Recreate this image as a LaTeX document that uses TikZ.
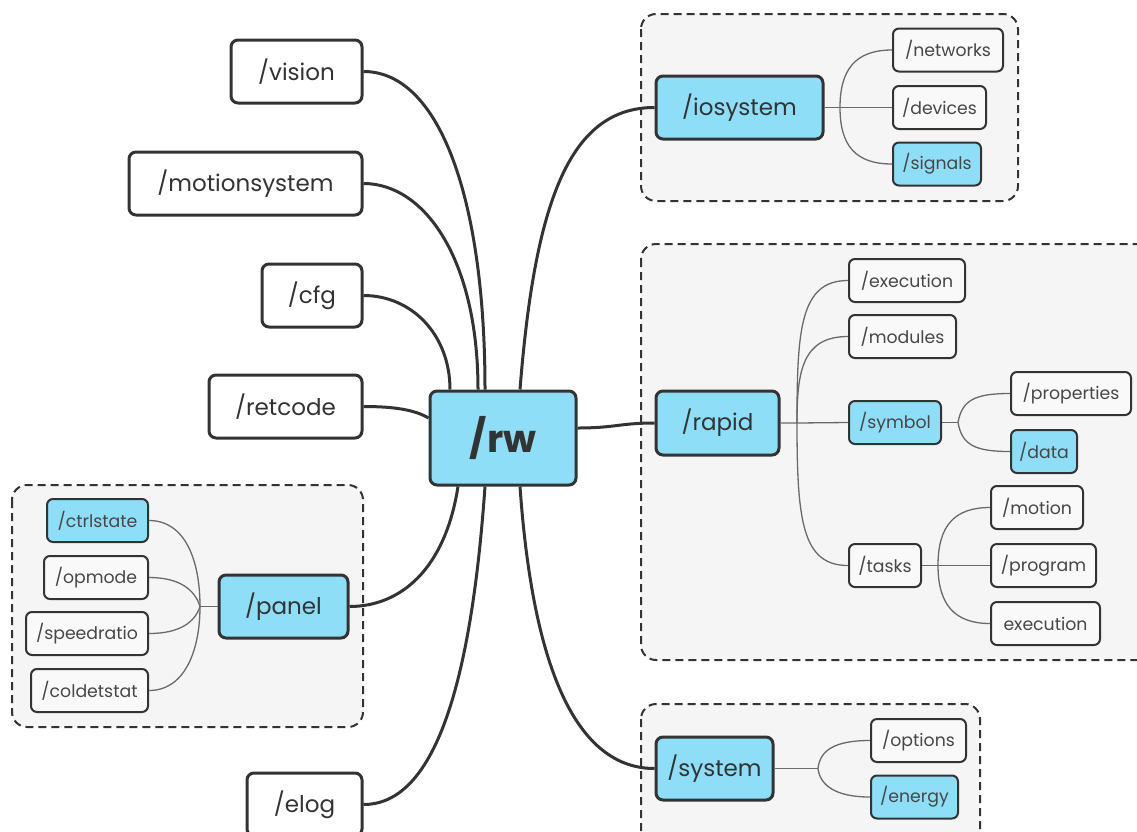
\documentclass[tikz,border=0pt]{standalone}
\usepackage{fontspec}
\setmainfont{Poppins}
\usetikzlibrary{calc}
\definecolor{ink}{HTML}{333333}
\definecolor{thin}{HTML}{6A6A6A}
\definecolor{blueF}{HTML}{8EDEF8}
\definecolor{grpF}{HTML}{F5F5F5}
\definecolor{smallF}{HTML}{F9F9F9}
\tikzset{
  big/.style={draw=ink, line width=3pt, rounded corners=7pt, fill=white, text=ink,
    font=\fontsize{23}{27}\selectfont, minimum height=63pt, inner sep=0pt},
  bigblue/.style={big, fill=blueF},
  small/.style={draw=ink, line width=2pt, rounded corners=6pt, fill=smallF, text=ink!90,
    font=\fontsize{17.3}{20}\selectfont, minimum height=43pt, inner sep=0pt},
  smallblue/.style={small, fill=blueF},
  grp/.style={draw=ink, line width=2pt, dash pattern=on 8pt off 5pt, rounded corners=15pt, fill=grpF},
  main/.style={draw=ink, line width=3pt},
  branch/.style={draw=thin, line width=1.3pt},
}
\begin{document}
\begin{tikzpicture}[x=1pt,y=-1pt]
\useasboundingbox (0,0) rectangle (1137,831);
% groups
\draw[grp] (641,14) rectangle (1018,201);
\draw[grp] (641,244) rectangle (1155,660);
\draw[grp] (12,485) rectangle (363,727);
\draw[grp] (641,704) rectangle (980,845);

% main nodes
\node[bigblue, minimum width=146pt, minimum height=94pt, font=\fontsize{38}{44}\selectfont\bfseries] (rw) at (503,438) {/rw};
\node[big, minimum width=131pt] (vision) at (296.5,71.5) {/vision};
\node[big, minimum width=233pt] (motionsystem) at (245.5,183.5) {/motionsystem};
\node[big, minimum width=100pt] (cfg) at (312,295.5) {/cfg};
\node[big, minimum width=153pt] (retcode) at (285.5,406.5) {/retcode};
\node[bigblue, minimum width=129pt] (panel) at (283.5,606.5) {/panel};
\node[big, minimum width=115pt] (elog) at (304.5,804.5) {/elog};
\node[bigblue, minimum width=167pt] (iosystem) at (739.5,107.5) {/iosystem};
\node[bigblue, minimum width=123pt, minimum height=64pt] (rapid) at (717.5,423) {/rapid};
\node[bigblue, minimum width=117pt] (system) at (714.5,768.5) {/system};

% small nodes
\node[small, minimum width=110pt] (networks) at (948,50) {/networks};
\node[small, minimum width=93pt] (devices) at (939.5,107.5) {/devices};
\node[smallblue, minimum width=88pt] (signals) at (937,164) {/signals};
\node[small, minimum width=116pt] (execution) at (907,280.5) {/execution};
\node[small, minimum width=107pt] (modules) at (902.5,336.5) {/modules};
\node[smallblue, minimum width=92pt] (symbol) at (895,422.5) {/symbol};
\node[small, minimum width=120pt] (properties) at (1071,393.5) {/properties};
\node[smallblue, minimum width=66pt] (data) at (1044,451.5) {/data};
\node[small, minimum width=72pt] (tasks) at (885,565.5) {/tasks};
\node[small, minimum width=92pt] (motion) at (1037,507.5) {/motion};
\node[small, minimum width=105pt] (program) at (1043.5,565.5) {/program};
\node[small, minimum width=109pt] (execution2) at (1045.5,623.5) {execution};
\node[smallblue, minimum width=101pt] (ctrlstate) at (97.5,520.5) {/ctrlstate};
\node[small, minimum width=104pt] (opmode) at (96,577.5) {/opmode};
\node[small, minimum width=122pt] (speedratio) at (87,633.5) {/speedratio};
\node[small, minimum width=117pt] (coldetstat) at (89.5,690.5) {/coldetstat};
\node[small, minimum width=95pt] (options) at (918.5,740.5) {/options};
\node[smallblue, minimum width=87pt] (energy) at (914.5,797) {/energy};

% main connectors
\draw[main] (vision.east) .. controls (440,71.5) and (485,200) .. ($(rw.north)+(-18,0)$);
\draw[main] (motionsystem.east) .. controls (425,183.5) and (478,260) .. ($(rw.north)+(-25,0)$);
\draw[main] (cfg.east) .. controls (412,295.5) and (450,335) .. ($(rw.north)+(-53,0)$);
\draw[main] (retcode.east) .. controls (395,406.5) and (415,410) .. ($(rw.west)+(0,-20)$);
\draw[main] ($(rw.north)+(17,0)$) .. controls (535,200) and (570,107.5) .. (iosystem.west);
\draw[main] ($(rw.east)+(0,-10)$) .. controls (615,428) and (620,423) .. (rapid.west);
\draw[main] ($(rw.south)+(-45,0)$) .. controls (445,570) and (400,606.5) .. (panel.east);
\draw[main] ($(rw.south)+(-18,0)$) .. controls (470,700) and (430,804.5) .. (elog.east);
\draw[main] ($(rw.south)+(17,0)$) .. controls (535,700) and (590,768.5) .. (system.west);

% branch connectors
\coordinate (ib) at (840,107.5);
\draw[branch] (iosystem.east) -- (ib) -- (devices.west);
\draw[branch] (ib) .. controls (840,70) and (855,50) .. (networks.west);
\draw[branch] (ib) .. controls (840,145) and (855,164) .. (signals.west);

\coordinate (rb) at (797,423);
\draw[branch] (rapid.east) -- (rb) -- (symbol.west);
\draw[branch] (rb) .. controls (797,330) and (800,280.5) .. (execution.west);
\draw[branch] (rb) .. controls (797,372) and (802,336.5) .. (modules.west);
\draw[branch] (rb) .. controls (797,520) and (802,565.5) .. (tasks.west);

\coordinate (sb) at (958,422.5);
\draw[branch] (symbol.east) -- (sb);
\draw[branch] (sb) .. controls (962,400) and (975,393.5) .. (properties.west);
\draw[branch] (sb) .. controls (962,445) and (975,451.5) .. (data.west);

\coordinate (tb) at (938,565.5);
\draw[branch] (tasks.east) -- (tb) -- (program.west);
\draw[branch] (tb) .. controls (938,525) and (955,507.5) .. (motion.west);
\draw[branch] (tb) .. controls (938,605) and (955,623.5) .. (execution2.west);

\coordinate (pb) at (200,606.5);
\draw[branch] (panel.west) -- (pb);
\draw[branch] (pb) .. controls (200,560) and (185,520.5) .. (ctrlstate.east);
\draw[branch] (pb) .. controls (195,590) and (180,577.5) .. (opmode.east);
\draw[branch] (pb) .. controls (195,622) and (180,633.5) .. (speedratio.east);
\draw[branch] (pb) .. controls (200,650) and (185,690.5) .. (coldetstat.east);

\coordinate (yb) at (818,768.5);
\draw[branch] (system.east) -- (yb);
\draw[branch] (yb) .. controls (820,750) and (835,740.5) .. (options.west);
\draw[branch] (yb) .. controls (820,785) and (835,797) .. (energy.west);
\end{tikzpicture}
\end{document}
